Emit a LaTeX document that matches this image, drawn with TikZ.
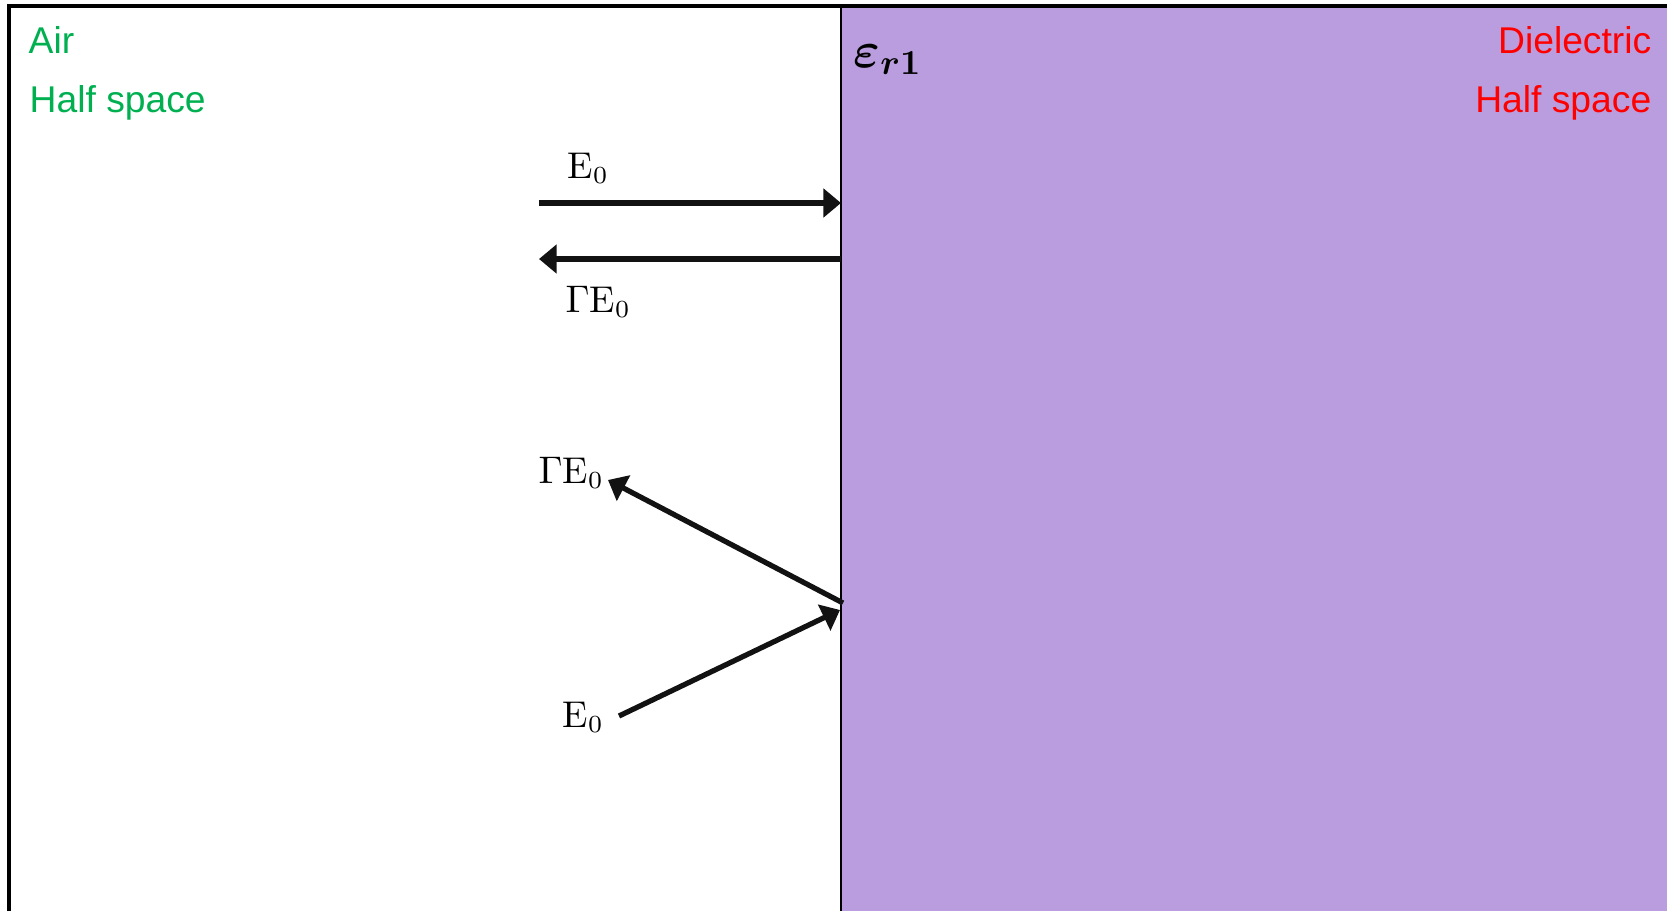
\documentclass[tikz,border=0pt]{standalone}
\usepackage{fontspec}
\usepackage{amsmath,amssymb,bm}
\usetikzlibrary{arrows.meta}
\newfontfamily\arialfont{Liberation Sans}
\definecolor{airgreen}{RGB}{0,176,80}
\definecolor{dielred}{RGB}{255,0,0}
\definecolor{dielpurple}{RGB}{185,157,222}
\tikzset{
  wave/.style={line width=1.5pt, draw=black!93, -{Triangle[length=5pt,width=8pt]}},
  lbl/.style={inner sep=0pt, anchor=base west, font=\fontsize{10.6}{12}\selectfont},
  side/.style={inner sep=0pt, font=\arialfont\fontsize{10.6}{12}\selectfont},
}
\begin{document}
\begin{tikzpicture}[x=0.1mm,y=-0.1mm]
\useasboundingbox (0,0) rectangle (1667,911);
\fill[dielpurple] (841,6) rectangle (1667,911);
\draw[line width=0.9pt] (9,911) -- (9,6) -- (1667,6);
\draw[line width=0.6pt] (841,6) -- (841,911);

\node[side, text=airgreen, anchor=base west] (air) at (28,53) {Air};
\node[side, text=airgreen, anchor=base west] (airhs) at (29,112) {Half space};
\node[side, text=dielred, anchor=base east] (diel) at (1652,53) {Dielectric};
\node[side, text=dielred, anchor=base east] (dielhs) at (1652,112) {Half space};
\node[inner sep=0pt, anchor=base west, font=\fontsize{14.5}{16}\selectfont] (eps) at (853,67) {$\boldsymbol{\varepsilon_{r1}}$};

% normal incidence
\coordinate (a1) at (539,203);
\coordinate (b1) at (841,203);
\coordinate (a2) at (841,259);
\coordinate (b2) at (539,259);
\draw[wave] (a1) -- (b1);
\draw[wave] (a2) -- (b2);
\node[lbl] (e0t) at (567,178) {$\mathrm{E}_0$};
\node[lbl] (ge0t) at (565,312) {$\Gamma\mathrm{E}_0$};

% oblique incidence
\coordinate (c1) at (619,716);
\coordinate (d1) at (840,610);
\coordinate (c2) at (843,603);
\coordinate (d2) at (608,480);
\draw[wave] (c1) -- (d1);
\draw[wave] (c2) -- (d2);
\node[lbl] (ge0b) at (538,483) {$\Gamma\mathrm{E}_0$};
\node[lbl] (e0b) at (562,727) {$\mathrm{E}_0$};
\end{tikzpicture}
\end{document}
